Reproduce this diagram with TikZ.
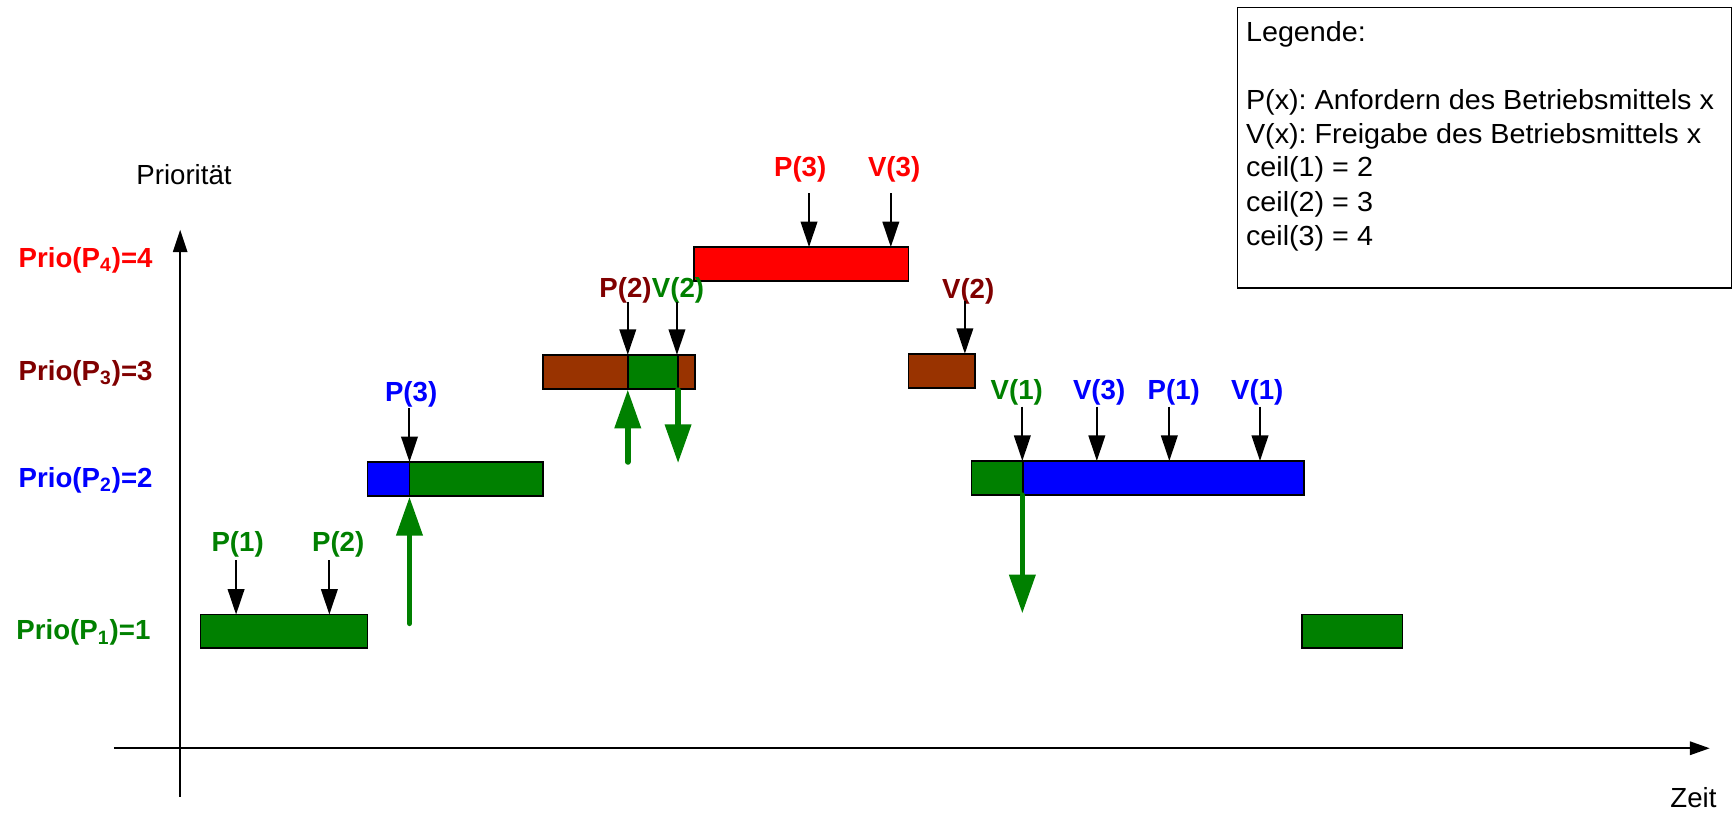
\documentclass[tikz,border=0pt]{standalone}
\usepackage{fontspec}
\setmainfont{Liberation Sans}
\newfontfamily\legfont{Liberation Sans}[FakeStretch=1.04]
\usetikzlibrary{arrows.meta}
\definecolor{pgreen}{RGB}{0,128,0}
\definecolor{pred}{RGB}{255,0,0}
\definecolor{pblue}{RGB}{0,0,255}
\definecolor{pbrown}{RGB}{153,51,0}
\definecolor{pdred}{RGB}{128,0,0}
\frenchspacing
\begin{document}
\begin{tikzpicture}[x=0.5pt,y=-0.5pt,
  box/.style={draw=black, line width=0.8pt},
  lbl/.style={font=\fontsize{12.5}{15}\selectfont\bfseries, inner sep=0pt, anchor=base},
  plbl/.style={font=\fontsize{12.5}{15}\selectfont\bfseries, inner sep=0pt, anchor=base west},
  ev/.style={-{Triangle[length=11.5pt,width=7.5pt]}, line width=0.9pt},
  big/.style={-{Triangle[length=17.5pt,width=11.5pt]}, line width=2.5pt, draw=pgreen, fill=pgreen, line cap=round},
  txt/.style={font=\fontsize{12.5}{15}\selectfont, inner sep=0pt, anchor=base west},
  legtxt/.style={font=\legfont\fontsize{12.5}{15}\selectfont, inner sep=0pt, anchor=base west}]
\useasboundingbox (0,0) rectangle (1568,736);
% axes
\coordinate (yb) at (163,721);
\coordinate (yt) at (163,208);
\coordinate (xl) at (103,677);
\coordinate (xr) at (1547,677);
\draw[line width=0.6pt, -{Triangle[length=10pt,width=6.5pt]}] (yb) -- (yt);
\draw[line width=1.1pt, -{Triangle[length=9pt,width=6pt]}] (xl) -- (xr);
\node[txt] (ylab) at (123,167) {Priorität};
\node[txt] (xlab) at (1511,731) {Zeit};
% priority labels
\node[plbl, text=pred] (p4) at (16.5,242) {Prio(P\textsubscript{4})=4};
\node[plbl, text=pdred] (p3) at (16.5,344) {Prio(P\textsubscript{3})=3};
\node[plbl, text=pblue] (p2) at (16.5,441) {Prio(P\textsubscript{2})=2};
\node[plbl, text=pgreen] (p1) at (14.5,579) {Prio(P\textsubscript{1})=1};
% boxes row 1
\draw[box, fill=pgreen] (181.5,556) rectangle (332.5,586);
\draw[box, fill=pgreen] (1178,556) rectangle (1269,586);
% row 2
\draw[box, fill=pblue] (332.5,418) rectangle (370.5,449);
\draw[box, fill=pgreen] (370.5,418) rectangle (491,449);
\draw[box, fill=pgreen] (879,417) rectangle (925.5,448);
\draw[box, fill=pblue] (925.5,417) rectangle (1180,448);
% row 3
\draw[box, fill=pbrown] (491,321) rectangle (568,352);
\draw[box, fill=pgreen] (568,321) rectangle (613.5,352);
\draw[box, fill=pbrown] (613.5,321) rectangle (629,352);
\draw[box, fill=pbrown] (822,320) rectangle (882.5,351);
% row 4
\draw[box, fill=pred] (628,223.5) rectangle (822,254);
% event arrows
\foreach \n/\lx/\ly/\ax/\ys/\ye/\c/\t in {
  a/215/499/213.6/507/556/pgreen/P(1),
  b/306/499/298/507/556/pgreen/P(2),
  c/372/363.4/370.5/369/418/pblue/P(3),
  d/566/269/568/273/321/pdred/P(2),
  e/613.5/269/612.5/273/321/pgreen/V(2),
  f/724/160/732/175/223.5/pred/P(3),
  g/809/160/806/175/223.5/pred/V(3),
  h/876/269.7/873/272/320/pdred/V(2),
  i/920/361.3/925/368/417/pgreen/V(1),
  j/994.5/361.3/992.4/368/417/pblue/V(3),
  k/1062/361.3/1058/368/417/pblue/P(1),
  l/1137.6/361.3/1140/368/417/pblue/V(1)} {
  \node[lbl, text=\c] (l\n) at (\lx,\ly) {\t};
  \coordinate (s\n) at (\ax,\ys);
  \coordinate (e\n) at (\ax,\ye);
  \draw[ev] (s\n) -- (e\n);
}
% big green arrows
\coordinate (g1s) at (370.5,564); \coordinate (g1e) at (370.5,449.5);
\coordinate (g2s) at (568,418); \coordinate (g2e) at (568,352.5);
\coordinate (g3s) at (613.5,353); \coordinate (g3e) at (613.5,419);
\coordinate (g4s) at (925,448); \coordinate (g4e) at (925,555);
\draw[big] (g1s) -- (g1e);
\draw[big] (g2s) -- (g2e);
\draw[big] (g3s) -- (g3e);
\draw[big] (g4s) -- (g4e);
% legend
\node[draw, line width=0.6pt, minimum width=223.5pt, minimum height=127pt, anchor=north west, inner sep=0pt] (legend) at (1119,6) {};
\node[legtxt] (lg0) at (1127,37.7) {Legende:};
\node[legtxt] (lg1) at (1127,98.9) {P(x): Anfordern des Betriebsmittels x};
\node[legtxt] (lg2) at (1127,129.7) {V(x): Freigabe des Betriebsmittels x};
\node[legtxt] (lg3) at (1127,159.9) {ceil(1) = 2};
\node[legtxt] (lg4) at (1127,191.5) {ceil(2) = 3};
\node[legtxt] (lg5) at (1127,221.7) {ceil(3) = 4};
\end{tikzpicture}
\end{document}
